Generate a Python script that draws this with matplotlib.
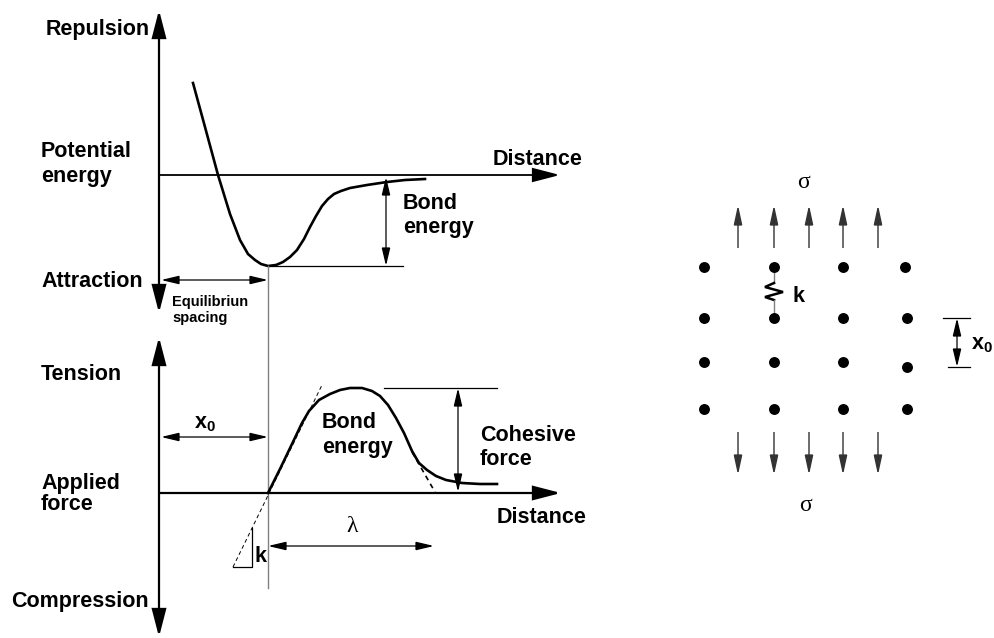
import numpy as np
import matplotlib
matplotlib.use('Agg')
import matplotlib.pyplot as plt
from matplotlib.patches import FancyArrowPatch, ArrowStyle

plt.rcParams['font.family'] = 'Liberation Sans'
plt.rcParams['font.weight'] = 'bold'
plt.rcParams['mathtext.fontset'] = 'custom'
plt.rcParams['mathtext.bf'] = 'Liberation Sans:bold'
plt.rcParams['mathtext.rm'] = 'Liberation Sans:bold'

# ── Curves (canvas pixels, y grows downward) ──────────────────────────────────
potential_x = [193, 205, 218, 230, 240, 248, 255, 261, 268, 276, 283, 290,
               297, 304, 310, 316, 322, 328, 334, 341, 350, 367, 387, 405, 425]
potential_y = [83, 127, 175, 214, 240, 254, 260, 264, 266, 265, 262, 257,
               250, 239, 227, 216, 206, 199, 194, 191, 188, 185, 182, 180, 179]

force_x = [268, 280, 292, 302, 309, 319, 330, 340, 350, 362, 372, 380,
           388, 396, 404, 412, 419, 427, 436, 446, 462, 480, 497]
force_y = [493, 469, 444, 423, 411, 400, 394, 390, 388, 388, 391, 396,
           405, 418, 433, 451, 463, 470, 476, 480, 483, 484, 484]

# ── Lattice of atoms under stress ─────────────────────────────────────────────
atom_rows_y = [267, 318, 362, 409]
atom_cols_x = [[704, 774, 843, 905],
               [704, 774, 843, 907],
               [704, 774, 843, 907],
               [704, 774, 843, 907]]
atom_row_shift = [[0, 0, 0, 0], [0, 0, 0, 0], [0, 0, 0, 5], [0, 0, 0, 0]]
stress_arrow_x = [738, 774, 809, 843, 878]

BLACK = '#000000'
GREY = '#808080'

fig = plt.figure(figsize=(9.94, 6.38), dpi=100)
ax = fig.add_axes([0, 0, 1, 1])
ax.set_xlim(0, 994)
ax.set_ylim(638, 0)
ax.axis('off')


def arrow(p0, p1, style='-|>', lw=1.0, hl=11, hw=2.6, color=BLACK):
    st = ArrowStyle(style, head_length=hl, head_width=hw)
    ax.add_patch(FancyArrowPatch(p0, p1, arrowstyle=st, mutation_scale=1,
                                 lw=lw, color=color, shrinkA=0, shrinkB=0,
                                 joinstyle='miter', capstyle='butt'))


def label(x, y, s, size=15.5, **kw):
    ax.text(x, y, s, fontsize=size, fontweight='bold', ha='left',
            va='baseline', **kw)


# ── Potential energy diagram ─────────────────────────────────────────────────
arrow((159, 175), (159, 10), lw=1.6, hl=17, hw=4.4)
arrow((159, 175), (159, 313), lw=1.6, hl=17, hw=4.4)
arrow((159, 175), (560, 175), lw=1.3, hl=17, hw=4.4)
ax.plot(potential_x, potential_y, color=BLACK, lw=1.9, solid_joinstyle='round')

ax.plot([268, 403], [266, 266], color=BLACK, lw=0.9)
arrow((386, 221), (386, 177), lw=0.9)
arrow((386, 221), (386, 266), lw=0.9)
arrow((214, 280), (161, 280), lw=0.9)
arrow((214, 280), (268, 280), lw=0.9)
ax.plot([268, 268], [266, 588], color=GREY, lw=1.0)

label(46, 35, 'Repulsion')
label(41, 157, 'Potential')
label(41, 182, 'energy')
label(41, 287, 'Attraction')
label(493, 165, 'Distance')
label(403, 209, 'Bond')
label(403, 233, 'energy')
label(172, 306, 'Equilibriun', size=10.5)
label(172, 322, 'spacing', size=10.5)

# ── Force diagram ────────────────────────────────────────────────────────────
arrow((159, 493), (159, 337), lw=1.6, hl=17, hw=4.4)
arrow((159, 493), (159, 637), lw=1.6, hl=17, hw=4.4)
arrow((159, 493), (561, 493), lw=1.6, hl=17, hw=4.4)
ax.plot(force_x, force_y, color=BLACK, lw=1.9, solid_joinstyle='round')

# stiffness tangent at x0 and the slope triangle
ax.plot([233, 322], [567, 385], color=BLACK, lw=0.7, ls=(0, (4, 3)))
ax.plot([252, 252, 233], [528, 567, 567], color=BLACK, lw=0.9)
ax.plot([412, 435], [452, 492], color=BLACK, lw=1.2, ls=(0, (3, 2.5)))

ax.plot([384, 497], [388, 388], color=BLACK, lw=0.9)
arrow((458, 440), (458, 388), lw=0.9)
arrow((458, 440), (458, 492), lw=0.9)
arrow((214, 437), (161, 437), lw=0.9)
arrow((214, 437), (268, 437), lw=0.9)
arrow((350, 546), (268, 546), lw=0.9)
arrow((350, 546), (434, 546), lw=0.9)

label(41, 380, 'Tension')
label(41, 489, 'Applied')
label(41, 510, 'force')
label(11, 607, 'Compression')
label(497, 523, 'Distance')
label(322, 428, 'Bond')
label(322, 453, 'energy')
label(480, 441, 'Cohesive')
label(480, 465, 'force')
label(194, 428, r'$\mathbf{x_0}$')
label(255, 562, 'k')
ax.text(352, 532, 'λ', fontsize=17, family='Liberation Serif',
        fontweight='normal', ha='center', va='baseline')

# ── Atomic lattice ───────────────────────────────────────────────────────────
for yy, xs, dy in zip(atom_rows_y, atom_cols_x, atom_row_shift):
    ax.scatter(xs, np.array(dy) + yy, s=62, color=BLACK, lw=0, zorder=3)

for xx in stress_arrow_x:
    arrow((xx, 248), (xx, 205), lw=1.0, hl=12, hw=2.6, color='#333333')
    arrow((xx, 432), (xx, 475), lw=1.0, hl=12, hw=2.6, color='#333333')

# spring between two neighbouring atoms
ax.plot([774, 774], [267, 283], color=GREY, lw=1.0)
ax.plot([774, 765, 783, 765, 774], [283, 287, 292, 297, 300],
        color=BLACK, lw=1.8, solid_joinstyle='miter')
ax.plot([774, 774], [300, 318], color=GREY, lw=1.0)
label(792, 302, 'k')

ax.plot([943, 970], [318, 318], color=BLACK, lw=0.9)
ax.plot([948, 970], [367, 367], color=BLACK, lw=0.9)
arrow((957, 342), (957, 318), lw=0.9)
arrow((957, 342), (957, 367), lw=0.9)
label(971, 349, r'$\mathbf{x_0}$')

ax.text(803, 188, 'σ', fontsize=17, family='Liberation Serif',
        fontweight='normal', ha='center', va='baseline')
ax.text(806, 511, 'σ', fontsize=17, family='Liberation Serif',
        fontweight='normal', ha='center', va='baseline')

fig.savefig('out.png', dpi=100)
plt.close(fig)
